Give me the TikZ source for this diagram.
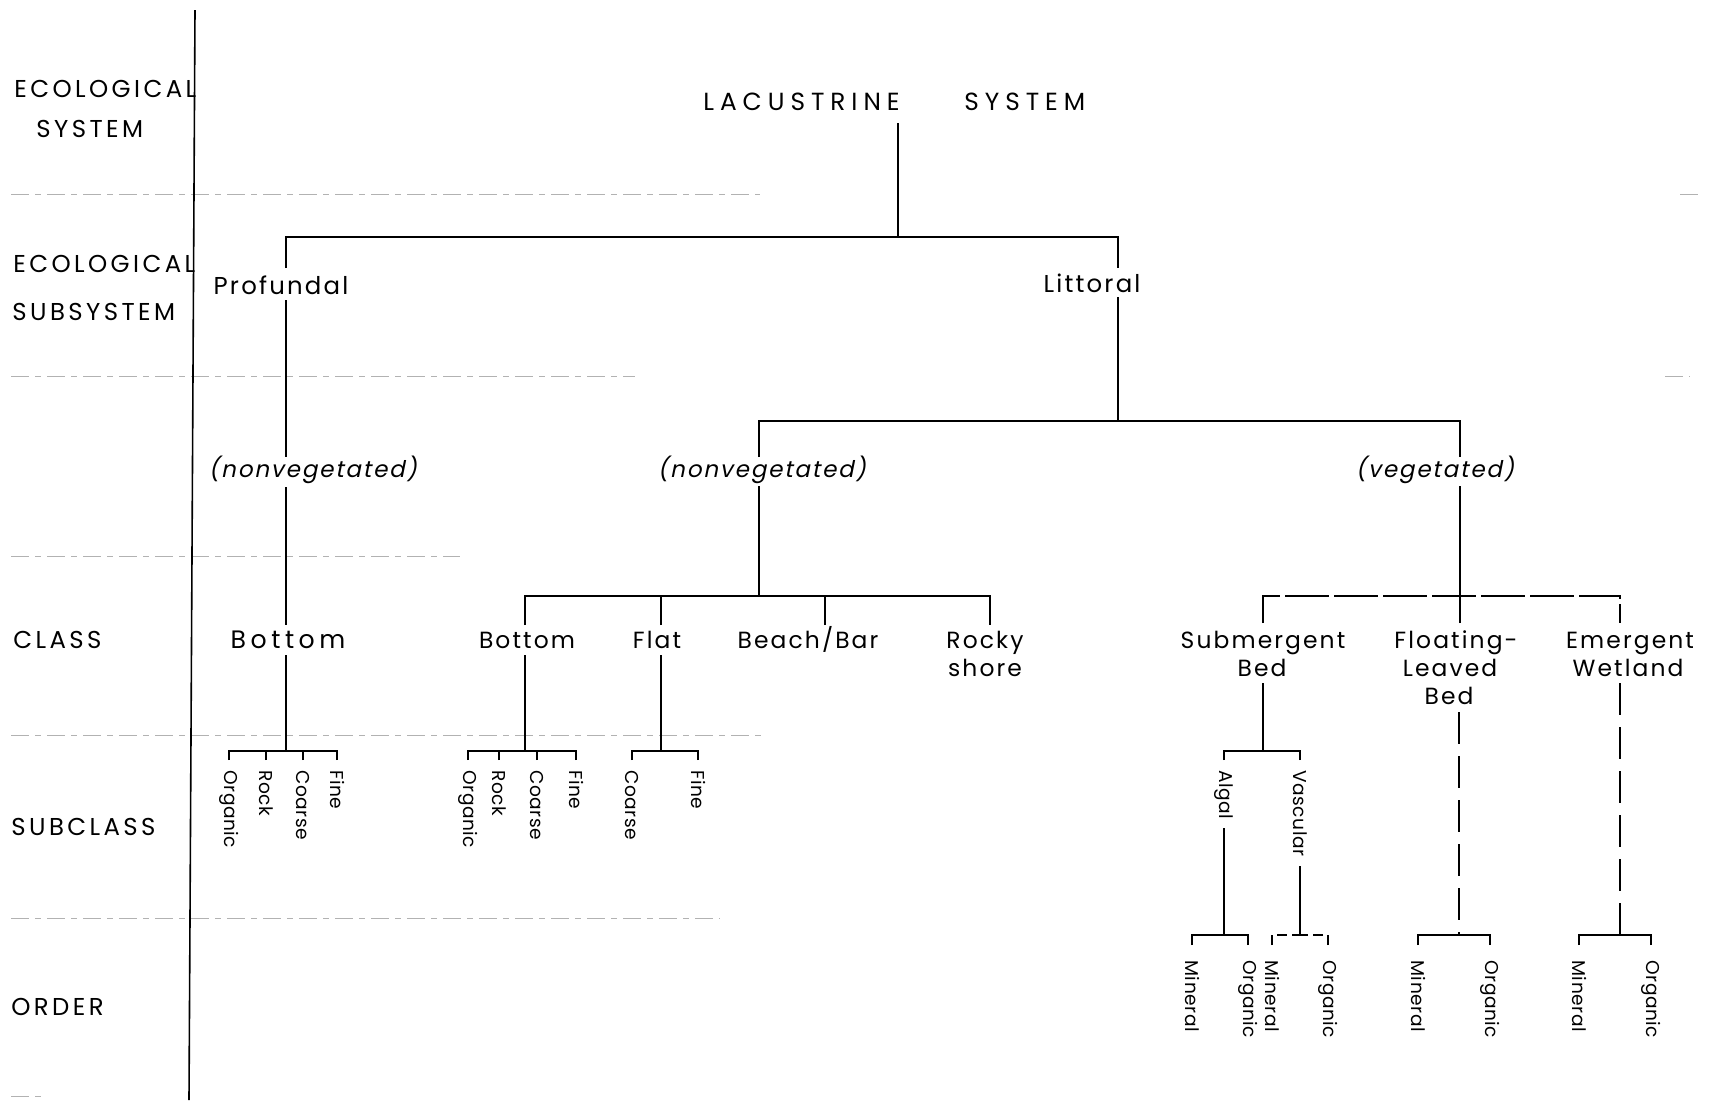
\documentclass[tikz,border=0pt]{standalone}
\usepackage{fontspec}
\setmainfont{Poppins}
\newfontfamily\topfont{Poppins}[LetterSpace=24]
\newfontfamily\capfont{Poppins}[LetterSpace=14]
\newfontfamily\trfont{Poppins}[LetterSpace=9]
\newfontfamily\wdfont{Poppins}[LetterSpace=18]
\newfontfamily\slfont{Poppins}[FakeSlant=0.2,LetterSpace=8]
\newfontfamily\rotfont{Poppins}[LetterSpace=3]
\usetikzlibrary{calc}
\begin{document}
\begin{tikzpicture}[x=0.5pt,y=-0.5pt,
  tree/.style={line width=1.3pt},
  vbar/.style={line width=1.3pt, dash pattern=on 22pt off 2.5pt},
  vsm/.style={line width=1.3pt, dash pattern=on 5pt off 2.5pt},
  vdash/.style={line width=1.3pt, dash pattern=on 16pt off 6pt},
  gridln/.style={gray!60, line width=0.5pt, dash pattern=on 9pt off 3pt on 3pt off 3pt},
  axisln/.style={line width=0.8pt},
  toplbl/.style={inner sep=0pt, font=\topfont\fontsize{12.4}{14}\selectfont},
  rowlbl/.style={anchor=base west, inner sep=0pt, font=\capfont\fontsize{12.2}{14}\selectfont},
  tlbl/.style={anchor=base, inner sep=0pt, font=\trfont\fontsize{12.2}{14}\selectfont},
  wlbl/.style={anchor=base, inner sep=0pt, font=\wdfont\fontsize{12.6}{14}\selectfont},
  clbl/.style={anchor=base, inner sep=0pt, font=\trfont\fontsize{11.7}{14}\selectfont},
  itl/.style={anchor=base, inner sep=0pt, font=\slfont\fontsize{11.5}{14}\selectfont},
  sublbl/.style={rotate=-90, anchor=west, inner sep=0pt, font=\rotfont\fontsize{9.3}{11}\selectfont}
]
\useasboundingbox (0,0) rectangle (1713,1100);

% grid lines
\draw[gridln] (11,194) -- (760,194);
\draw[gridln] (1680,194) -- (1700,194);
\draw[gridln] (11,376) -- (635,376);
\draw[gridln] (1665,376) -- (1690,376);
\draw[gridln] (11,556) -- (460,556);
\draw[gridln] (11,735) -- (765,735);
\draw[gridln] (11,918) -- (720,918);
\draw[gridln] (11,1096) -- (44,1096);
\draw[axisln] (195,10) -- (189,1100);

% row labels
\node[rowlbl] (r1a) at (14,97) {ECOLOGICAL};
\node[rowlbl] (r1b) at (36,137) {SYSTEM};
\node[rowlbl] (r2a) at (13,272) {ECOLOGICAL};
\node[rowlbl] (r2b) at (12,320) {SUBSYSTEM};
\node[rowlbl] (r3) at (13,648) {CLASS};
\node[rowlbl] (r4) at (11,835) {SUBCLASS};
\node[rowlbl] (r5) at (11,1015) {ORDER};

% tree labels
\node[toplbl, anchor=base east] (lac) at (900,110) {LACUSTRINE};
\node[toplbl, anchor=base west] (sys) at (964,110) {SYSTEM};
\node[tlbl] (prof) at (281,294) {Profundal};
\node[tlbl] (litt) at (1092,292) {Littoral};
\node[itl] (pnv) at (313,477) {(nonvegetated)};
\node[itl] (lnv) at (762,477) {(nonvegetated)};
\node[itl] (lv) at (1435,477) {(vegetated)};
\node[wlbl] (pbot) at (288,648) {Bottom};
\node[clbl] (lbot) at (527,648) {Bottom};
\node[clbl] (flat) at (657,648) {Flat};
\node[clbl] (beach) at (808,648) {Beach/Bar};
\node[clbl] (rock1) at (985,648) {Rocky};
\node[clbl] (rock2) at (985,676) {shore};
\node[clbl] (subm1) at (1263,648) {Submergent};
\node[clbl] (subm2) at (1262,676) {Bed};
\node[clbl] (flo1) at (1456,648) {Floating-};
\node[clbl] (flo2) at (1450,676) {Leaved};
\node[clbl] (flo3) at (1449,704) {Bed};
\node[clbl] (em1) at (1630,648) {Emergent};
\node[clbl] (em2) at (1628,676) {Wetland};

% subclass labels
\node[sublbl] (po) at (229,770) {Organic};
\node[sublbl] (pr) at (266,770) {Rock};
\node[sublbl] (pc) at (303,770) {Coarse};
\node[sublbl] (pf) at (337,770) {Fine};
\node[sublbl] (lo) at (468,770) {Organic};
\node[sublbl] (lr) at (499,770) {Rock};
\node[sublbl] (lc) at (537,770) {Coarse};
\node[sublbl] (lf) at (576,770) {Fine};
\node[sublbl] (fc) at (632,770) {Coarse};
\node[sublbl] (ff) at (698,770) {Fine};
\node[sublbl] (alg) at (1224,770) {Algal};
\node[sublbl] (vas) at (1300,770) {Vascular};

% order labels
\node[sublbl] (am) at (1192,960) {Mineral};
\node[sublbl] (ao) at (1248,960) {Organic};
\node[sublbl] (vm) at (1272,960) {Mineral};
\node[sublbl] (vo) at (1328,960) {Organic};
\node[sublbl] (fm) at (1418,960) {Mineral};
\node[sublbl] (fo) at (1490,960) {Organic};
\node[sublbl] (emm) at (1579,960) {Mineral};
\node[sublbl] (emo) at (1651,960) {Organic};

% coordinates
\coordinate (lacB) at (898,123);
\coordinate (j1) at (898,237);
\coordinate (profT) at (286,268);
\coordinate (littT) at (1118,268);
\coordinate (pA) at (286,300);
\coordinate (pB) at (286,457);
\coordinate (pC) at (286,487);
\coordinate (pD) at (286,625);
\coordinate (pE) at (286,655);
\coordinate (pJ) at (286,751);
\coordinate (lA) at (1118,297);
\coordinate (j2) at (1118,421);
\coordinate (lnvT) at (759,457);
\coordinate (lvT) at (1460,457);
\coordinate (lnvB) at (759,486);
\coordinate (j3) at (759,596);
\coordinate (lbotT) at (525,625);
\coordinate (flatT) at (661,625);
\coordinate (beachT) at (825,625);
\coordinate (rockT) at (990,625);
\coordinate (lbA) at (525,655);
\coordinate (lbJ) at (525,751);
\coordinate (fA) at (661,655);
\coordinate (fJ) at (661,751);
\coordinate (lvB) at (1460,486);
\coordinate (j4) at (1460,596);
\coordinate (smT) at (1263,623);
\coordinate (flT) at (1460,623);
\coordinate (emT) at (1620,623);
\coordinate (smA) at (1263,683);
\coordinate (smJ) at (1263,751);
\coordinate (alA) at (1224,828);
\coordinate (alJ) at (1224,935);
\coordinate (vaA) at (1300,866);
\coordinate (vaJ) at (1300,935);
\coordinate (flA) at (1459,712);
\coordinate (flJ) at (1459,935);
\coordinate (emA) at (1620,683);
\coordinate (emJ) at (1620,935);

% connectors
\draw[tree] (lacB) -- (j1);
\draw[tree] (profT) |- (j1) -| (littT);
\draw[tree] (pA) -- (pB);
\draw[tree] (pC) -- (pD);
\draw[tree] (pE) -- (pJ);
\foreach \n in {po,pr,pc,pf} \draw[tree] (\n.west) ++(0,-10) |- (pJ);
\draw[tree] (lA) -- (j2);
\draw[tree] (lnvT) |- (j2) -| (lvT);
\draw[tree] (lnvB) -- (j3);
\draw[tree] (lbotT) |- (j3) -| (rockT);
\draw[tree] (flatT) -- (flatT |- j3);
\draw[tree] (beachT) -- (beachT |- j3);
\draw[tree] (lbA) -- (lbJ);
\foreach \n in {lo,lr,lc,lf} \draw[tree] (\n.west) ++(0,-10) |- (lbJ);
\draw[tree] (fA) -- (fJ);
\foreach \n in {fc,ff} \draw[tree] (\n.west) ++(0,-10) |- (fJ);
\draw[tree] (lvB) -- (j4);
\draw[vbar] (smT) |- (j4) -| (emT);
\draw[tree] (flT) -- (j4);
\draw[tree] (smA) -- (smJ);
\foreach \n in {alg,vas} \draw[tree] (\n.west) ++(0,-10) |- (smJ);
\draw[tree] (alA) -- (alJ);
\foreach \n in {am,ao} \draw[tree] (\n.west) ++(0,-15) |- (alJ);
\draw[tree] (vaA) -- (vaJ);
\foreach \n in {vm,vo} \draw[vsm] (\n.west) ++(0,-15) |- (vaJ);
\draw[vdash] (flA) -- (flJ);
\foreach \n in {fm,fo} \draw[tree] (\n.west) ++(0,-15) |- (flJ);
\draw[vdash] (emA) -- (emJ);
\foreach \n in {emm,emo} \draw[tree] (\n.west) ++(0,-15) |- (emJ);
\end{tikzpicture}
\end{document}
